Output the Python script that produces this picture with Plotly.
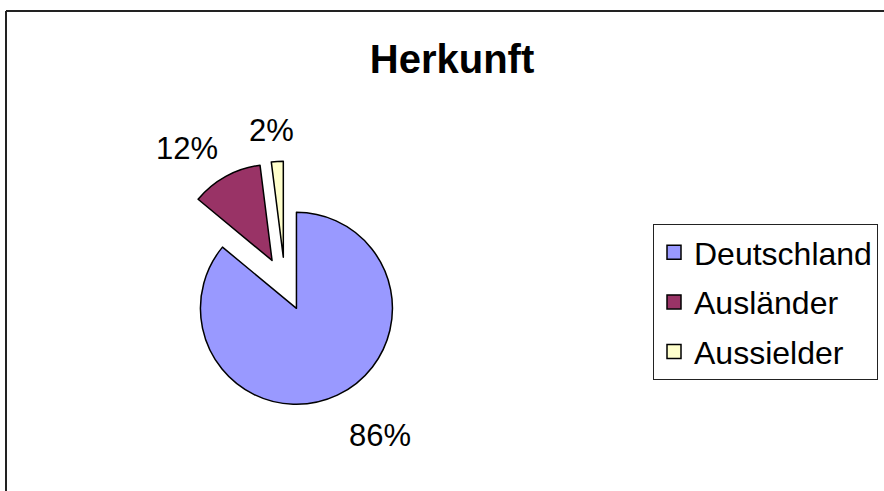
import math
import plotly.graph_objects as go

categories = ["Deutschland", "Ausländer", "Aussielder"]
shares = [86, 12, 2]
colors = ["#9999FF", "#993366", "#FFFFCC"]

W, H = 884, 491
FONT = "Liberation Sans, Arial, sans-serif"

# pie geometry (pixels)
CX, CY = 285, 284      # true pie centre
R = 96                 # slice radius
PULL = 0.28            # explosion as a fraction of radius
BOX = R * (2 + 2 * PULL)
LABEL_D = 145          # distance of label's near edge from centre
LABEL_FS = 31

dom_x = [(CX - BOX / 2) / W, (CX + BOX / 2) / W]
dom_y = [1 - (CY + BOX / 2) / H, 1 - (CY - BOX / 2) / H]

fig = go.Figure()
fig.add_trace(
    go.Pie(
        labels=categories,
        values=shares,
        sort=False,
        direction="clockwise",
        rotation=0,
        pull=[PULL] * len(shares),
        marker=dict(colors=colors, line=dict(color="#000000", width=1.5)),
        textinfo="none",
        domain=dict(x=dom_x, y=dom_y),
        hoverinfo="skip",
        showlegend=False,
    )
)

# legend entries (one per category, same colours as the slices)
for name, col in zip(categories, colors):
    fig.add_trace(
        go.Scatter(
            x=[None], y=[None], mode="markers", name=name,
            legendgroup=name,
            marker=dict(symbol="square", size=14, color=col,
                        line=dict(color="#000000", width=1.5)),
            hoverinfo="skip",
        )
    )

# percentage labels placed outside each slice along its mid-angle
total = sum(shares)
cum = 0
annotations = []
for v in shares:
    mid = (cum + v / 2) / total * 2 * math.pi
    cum += v
    ux, uy = math.sin(mid), -math.cos(mid)   # screen coords (y down)
    px = CX + ux * LABEL_D
    py = CY + uy * LABEL_D + (20.5 if uy > 0 else -8.5)
    if ux < -0.2:
        xa = "right"
        px += 5
    elif ux > 0.2:
        xa = "left"
    else:
        xa = "center"
        px -= 4
    annotations.append(dict(
        text=f"{round(v / total * 100)}%",
        x=px / W, y=1 - py / H, xref="paper", yref="paper",
        xanchor=xa, yanchor="middle", showarrow=False,
        font=dict(family=FONT, size=LABEL_FS, color="#000000"),
    ))

fig.update_layout(
    width=W,
    height=H,
    margin=dict(l=0, r=0, t=0, b=0),
    paper_bgcolor="white",
    plot_bgcolor="white",
    font=dict(family=FONT, color="#000000"),
    title=dict(
        text="<b>Herkunft</b>",
        font=dict(family=FONT, size=40, color="#000000"),
        x=452 / W,
        xanchor="center",
        xref="container",
        y=1 - 59 / H,
        yanchor="middle",
        yref="container",
    ),
    xaxis=dict(visible=False),
    yaxis=dict(visible=False),
    showlegend=True,
    legend=dict(
        x=653 / W,
        xanchor="left",
        y=1 - 224 / H,
        yanchor="top",
        bgcolor="white",
        bordercolor="#222222",
        borderwidth=1,
        tracegroupgap=5,
        traceorder="grouped",
        font=dict(family=FONT, size=32, color="#000000"),
    ),
    annotations=annotations,
    shapes=[
        dict(type="line", xref="paper", yref="paper",
             x0=6 / W, x1=1.02, y0=1 - 11 / H, y1=1 - 11 / H,
             line=dict(color="#222222", width=2)),
        dict(type="line", xref="paper", yref="paper",
             x0=6 / W, x1=6 / W, y0=1 - 11 / H, y1=-0.02,
             line=dict(color="#222222", width=2)),
    ],
)

fig.write_html(
    "out.html",
    config={"displayModeBar": False},
    post_script="document.body.style.margin='0';document.body.style.overflow='hidden';",
)
